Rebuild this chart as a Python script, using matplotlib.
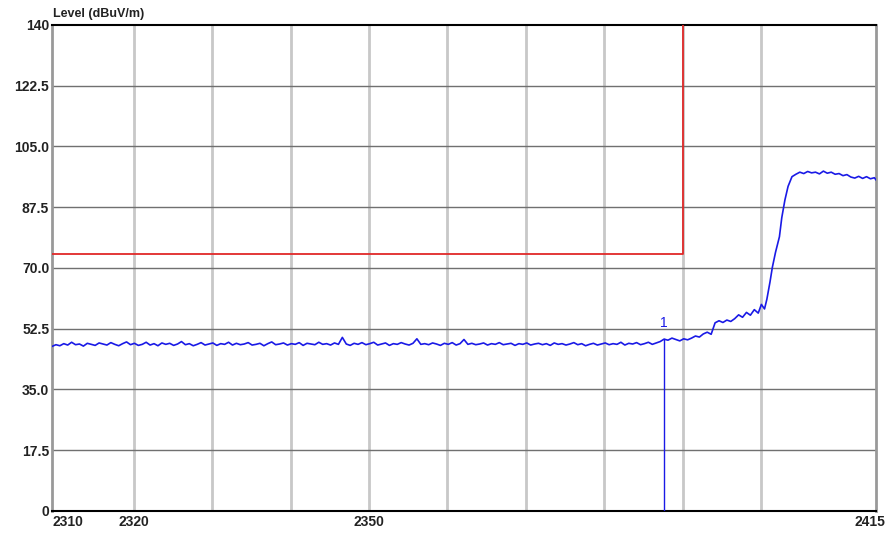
import matplotlib
matplotlib.use('agg')
import numpy as np
import matplotlib.pyplot as plt
from matplotlib.transforms import ScaledTranslation

plt.rcParams['font.family'] = ['Liberation Sans', 'DejaVu Sans']

# noise floor, 0.5 MHz steps
freq_floor = np.arange(2309.6, 2399.7, 0.5)
level_floor = [
    47.4, 47.9, 47.6, 48.2, 47.8, 48.6, 47.9, 48.1, 47.5, 48.3,
    48.0, 47.7, 48.4, 48.1, 47.8, 48.5, 48.0, 47.6, 48.2, 48.7,
    47.9, 48.3, 47.7, 48.0, 48.6, 47.8, 48.2, 47.6, 48.4, 48.0,
    48.3, 47.7, 48.1, 48.8, 47.9, 48.2, 47.6, 48.0, 48.5, 47.8,
    48.1, 48.4, 47.7, 48.2, 48.0, 48.6, 47.8, 48.3, 47.9, 48.1,
    48.5, 47.8, 48.0, 48.3, 47.6, 48.2, 48.7, 47.9, 48.1, 48.4,
    47.8, 48.2, 48.0, 48.5, 47.7, 48.3, 48.1, 47.9, 48.6, 48.0,
    48.2, 47.8, 48.4, 48.0, 50.0, 48.1, 47.7, 48.3, 48.0, 48.5,
    47.9, 48.2, 48.6, 47.8, 48.1, 48.4, 47.7, 48.2, 48.0, 48.5,
    48.1, 47.8, 48.3, 49.6, 48.0, 48.2, 47.9, 48.4, 48.1, 47.7,
    48.3, 48.0, 48.5, 47.8, 48.2, 49.4, 48.0, 48.3, 47.9, 48.1,
    48.4, 47.8, 48.2, 48.0, 48.5, 47.9, 48.1, 48.3, 47.7, 48.2,
    48.0, 48.4, 47.8, 48.1, 48.3, 47.9, 48.2, 47.7, 48.4, 48.0,
    48.2, 47.8, 48.1, 48.5, 47.9, 48.2, 47.6, 48.0, 48.3, 47.8,
    48.1, 48.4, 47.9, 48.2, 48.0, 48.6, 47.8, 48.3, 48.1, 48.5,
    47.9, 48.2, 48.6, 48.0, 48.4, 48.8, 49.5,
    49.2, 49.8, 49.4, 49.0, 49.6, 49.3, 49.8, 50.4, 50.1, 51.0,
    51.5, 50.9, 54.2, 54.8, 54.3, 55.0, 54.6, 55.4, 56.5, 55.8,
    57.2, 56.4, 58.0, 57.0,
]

# band edge rise and plateau
freq_rise = [2400.0, 2400.4, 2400.7, 2401.1, 2401.4, 2401.8, 2402.3, 2402.6, 2403.0, 2403.4,
             2403.9, 2404.4, 2404.9, 2405.4, 2405.9, 2406.4, 2406.9, 2407.4, 2407.9, 2408.4,
             2408.9, 2409.4, 2409.9, 2410.4, 2410.9, 2411.4, 2411.9, 2412.4, 2412.9, 2413.4,
             2413.9, 2414.4, 2414.6]
level_rise = [59.5, 58.2, 61.0, 66.0, 70.2, 74.5, 79.0, 84.5, 89.6, 93.5,
              96.3, 97.0, 97.6, 97.2, 97.8, 97.4, 97.6, 97.1, 97.9, 97.3,
              97.6, 97.0, 97.2, 96.6, 96.9, 96.2, 95.9, 96.4, 95.8, 96.3,
              95.7, 96.0, 95.4]

freq = np.concatenate([freq_floor, freq_rise])
level = np.concatenate([level_floor, level_rise])

x_start, x_stop = 2309.6, 2414.6

# limit line
limit_freq = [x_start, 2390, 2390]
limit_level = [74, 74, 140]

# marker 1
marker_freq = 2387.6
marker_level = 49.6

x_grid = [2320, 2330, 2340, 2350, 2360, 2370, 2380, 2390, 2400]
x_ticks = [x_start, 2320, 2350, x_stop]
x_labels = ['2310', '2320', '2350', '2415']
y_ticks = [0, 17.5, 35.0, 52.5, 70.0, 87.5, 105.0, 122.5, 140]
y_labels = ['0', '17.5', '35.0', '52.5', '70.0', '87.5', '105.0', '122.5', '140']

fig = plt.figure(figsize=(8.92, 5.35), dpi=100)
ax = fig.add_axes([0.0583, 0.0449, 0.9237, 0.9084])

for g in x_grid:
    ax.axvline(g, color='#c8c8c8', lw=2, zorder=1)
for v in y_ticks[1:-1]:
    ax.axhline(v, color='#707070', lw=1, zorder=1)

ax.plot(limit_freq, limit_level, color='#e02828', lw=1.3, zorder=3)
ax.plot(freq, level, color='#1a1ae6', lw=1.2, zorder=4)
ax.plot([marker_freq, marker_freq], [0, marker_level], color='#1a1ae6', lw=1.0, zorder=4)
ax.text(marker_freq, marker_level + 2.6, '1', color='#1a1ae6', fontsize=10,
        ha='center', va='bottom', zorder=5)

ax.set_xlim(x_start, x_stop)
ax.set_ylim(0, 140)
ax.set_xticks(x_ticks)
ax.set_xticklabels(x_labels)
ax.set_yticks(y_ticks)
ax.set_yticklabels(y_labels)
ax.tick_params(length=0, labelsize=10, colors='#222222')
ax.tick_params(axis='y', pad=2)
ax.tick_params(axis='x', pad=3)
for lab in ax.get_xticklabels() + ax.get_yticklabels():
    lab.set_fontweight('bold')

xl = ax.get_xticklabels()
xl[0].set_ha('left')
xl[-1].set_transform(xl[-1].get_transform() + ScaledTranslation(-6 / 100, 0, fig.dpi_scale_trans))

ax.spines['top'].set_color('black')
ax.spines['top'].set_linewidth(1.5)
ax.spines['bottom'].set_color('black')
ax.spines['bottom'].set_linewidth(1.5)
ax.spines['left'].set_color('#999999')
ax.spines['left'].set_linewidth(2)
ax.spines['right'].set_color('#999999')
ax.spines['right'].set_linewidth(2)

fig.text(0.0594, 0.974, 'Level (dBuV/m)', fontsize=9, fontweight='bold',
         color='#222222', ha='left', va='center')

plt.savefig('out.png', dpi=100)
